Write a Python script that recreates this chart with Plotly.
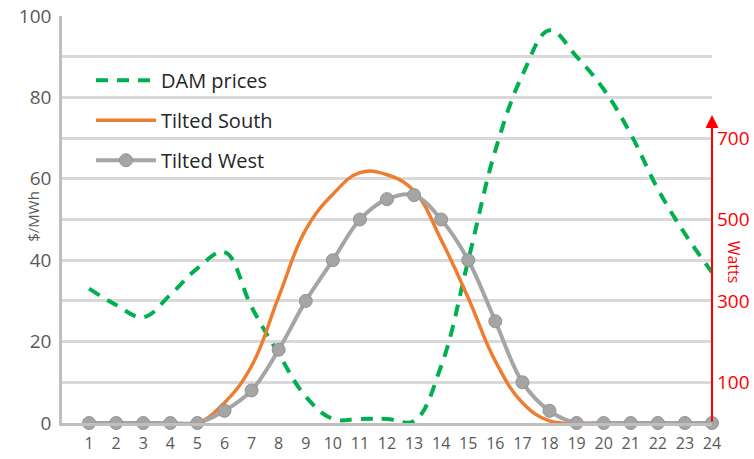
import plotly.graph_objects as go

# ---- data ----
hours = list(range(1, 25))
hour_labels = [str(h) for h in hours]
dam_prices = [33, 29, 26, 31.5, 38, 42, 28.5, 17, 6.5, 1, 1, 1, 0.5, 14, 40, 67, 85.5, 96.5, 90, 82, 71, 57.5, 46.5, 37]
tilted_south = [0, 0, 0, 0, 0, 50, 140, 310, 475, 562, 615, 610, 570, 450, 307, 152, 50, 5, 0, 0, 0, 0, 0, 0]
tilted_west = [0, 0, 0, 0, 0, 30, 80, 180, 300, 400, 500, 550, 560, 500, 400, 250, 100, 30, 0, 0, 0, 0, 0, 0]
price_ticks = [0, 10, 20, 30, 40, 50, 60, 70, 80, 90, 100]
price_labels = ["0", "", "20", "", "40", "", "60", "", "80", "", "100"]
watt_ticks = [100, 300, 500, 700]
watt_labels = ["100", "300", "500", "700"]
watt_arrow_top = 757

FONT = "Open Sans"
GREY_TXT = "#595959"
RED = "#FF0000"

fig = go.Figure()
fig.add_trace(go.Scatter(
    x=hours, y=dam_prices, name="DAM prices", mode="lines",
    line=dict(color="#00B050", width=4, dash="12px,9px", shape="spline", smoothing=1.1),
    legendgroup="a", cliponaxis=False,
))
fig.add_trace(go.Scatter(
    x=hours, y=tilted_south, name="Tilted South", mode="lines", yaxis="y2",
    line=dict(color="#ED7D31", width=3.5, shape="spline", smoothing=1.2),
    legendgroup="b", cliponaxis=False,
))
fig.add_trace(go.Scatter(
    x=hours, y=tilted_west, name="Tilted West", mode="lines+markers", yaxis="y2",
    line=dict(color="#A5A5A5", width=4, shape="spline", smoothing=1),
    marker=dict(size=13, color="#A5A5A5", line=dict(color="#939393", width=1)),
    legendgroup="c", cliponaxis=False,
))

fig.update_layout(
    width=754, height=459,
    margin=dict(l=62, r=42, t=16, b=35.5, autoexpand=False),
    paper_bgcolor="white", plot_bgcolor="white",
    font=dict(family=FONT, color=GREY_TXT),
    showlegend=True,
    legend=dict(
        x=0.0446, y=0.89, xanchor="left", yanchor="top",
        bgcolor="rgba(0,0,0,0)", font=dict(size=20, color="#262626", family=FONT),
        traceorder="grouped", tracegroupgap=11, itemwidth=60,
    ),
    xaxis=dict(
        range=[0, 24], tickmode="array", tickvals=hours, ticktext=hour_labels,
        showgrid=False, showline=True, linecolor="#BFBFBF", linewidth=2.5,
        ticks="outside", ticklen=4, tickcolor="rgba(0,0,0,0)",
        tickfont=dict(size=16, color=GREY_TXT), zeroline=False, automargin=False,
    ),
    yaxis=dict(
        range=[0, 100], tickmode="array", tickvals=price_ticks, ticktext=price_labels,
        showgrid=True, gridcolor="#D9D9D9", gridwidth=2.5,
        showline=True, linecolor="#BFBFBF", linewidth=2.5, zeroline=False,
        tickfont=dict(size=19, color=GREY_TXT), ticks="", ticklabelstandoff=4, automargin=False,
    ),
    yaxis2=dict(
        range=[0, 1000], overlaying="y", side="right", anchor="x",
        tickmode="array", tickvals=watt_ticks, ticktext=watt_labels,
        showgrid=False, showline=False, zeroline=False,
        tickfont=dict(size=19, color=RED), ticks="", ticklabelstandoff=4, automargin=False,
    ),
    annotations=[
        dict(x=24, y=watt_arrow_top, ax=24, ay=0, xref="x", yref="y2", axref="x", ayref="y2",
             text="", showarrow=True, arrowhead=2, arrowsize=1.3, arrowwidth=2, arrowcolor=RED),
        dict(x=21, y=217, xref="paper", yref="paper", text="$/MWh", showarrow=False,
             textangle=-90, font=dict(size=15, color=GREY_TXT)),
        dict(x=747, y=262, xref="paper", yref="paper", text="Watts", showarrow=False,
             textangle=90, font=dict(size=16, color=RED)),
    ],
)

# convert pixel positions of axis titles to paper coordinates
pw = 754 - 62 - 42
ph = 459 - 16 - 35.5
for ann in fig.layout.annotations[1:]:
    ann.x = (ann.x - 62) / pw
    ann.y = (459 - 35.5 - ann.y) / ph

fig.write_html(
    "out.html",
    config={"displayModeBar": False},
    post_script="document.body.style.margin='0';document.body.style.overflow='hidden';",
)
